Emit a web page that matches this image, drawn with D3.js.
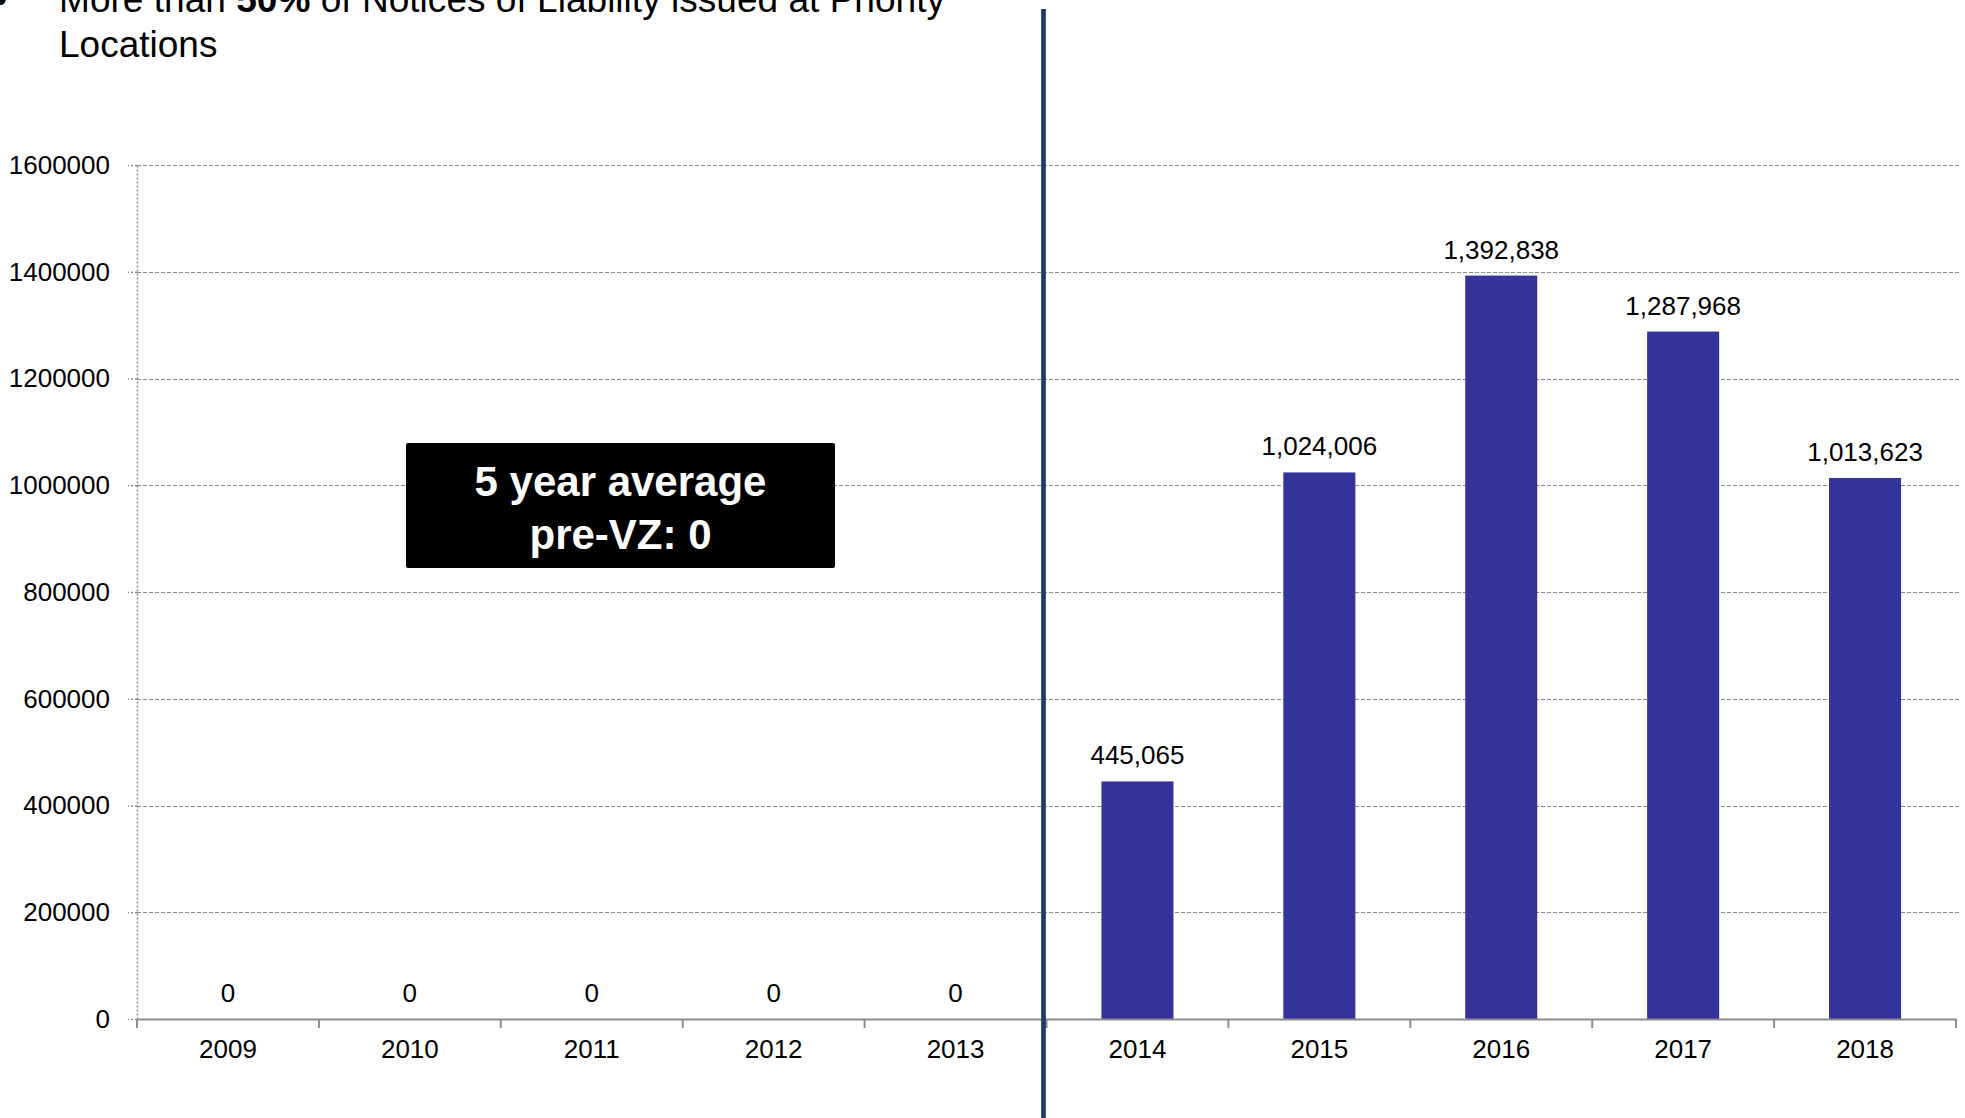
<!DOCTYPE html>
<html>
<head>
<meta charset="utf-8">
<script src="https://cdn.jsdelivr.net/npm/d3@7"></script>
<style>
  html, body { margin: 0; padding: 0; background: #fff; overflow: hidden; }
  svg { display: block; font-family: "Liberation Sans", Arial, sans-serif; }
</style>
</head>
<body>
<svg id="chart" width="1965" height="1118"></svg>
<script>
// Notices of Liability issued per year
const years = ["2009", "2010", "2011", "2012", "2013", "2014", "2015", "2016", "2017", "2018"];
const notices = [0, 0, 0, 0, 0, 445065, 1024006, 1392838, 1287968, 1013623];
const yTicks = [0, 200000, 400000, 600000, 800000, 1000000, 1200000, 1400000, 1600000];
const headlineParts = [
  { text: "More than ", bold: false },
  { text: "50%", bold: true },
  { text: " of Notices of Liability issued at Priority", bold: false }
];
const headlineLine2 = "Locations";
const calloutLines = ["5 year average", "pre-VZ: 0"];
const dividerYear = "2014";

const svg = d3.select("#chart");

const plot = { left: 137, right: 1956, top: 165, bottom: 1019 };

const x = d3.scaleBand()
  .domain(years)
  .range([plot.left, plot.right])
  .paddingInner(0.604)
  .paddingOuter(0.302);

const y = d3.scaleLinear()
  .domain([0, 1600000])
  .range([plot.bottom, plot.top]);

// Headline bullet text at the top
const head = svg.append("g").attr("fill", "#000").style("font-size", "37px");
head.append("text").attr("x", -6).attr("y", 12).text("•");
const line1 = head.append("text").attr("x", 59).attr("y", 12)
  .attr("textLength", 886).attr("lengthAdjust", "spacingAndGlyphs");
headlineParts.forEach(p => {
  line1.append("tspan").attr("font-weight", p.bold ? "bold" : "normal").text(p.text);
});
head.append("text").attr("x", 59).attr("y", 57).text(headlineLine2);

// Horizontal gridlines
svg.append("g")
  .selectAll("line")
  .data(yTicks.filter(d => d > 0))
  .join("line")
  .attr("x1", plot.left)
  .attr("x2", plot.right + 4)
  .attr("y1", d => Math.round(y(d)) + 0.5)
  .attr("y2", d => Math.round(y(d)) + 0.5)
  .attr("stroke", "#8c8c8c")
  .attr("stroke-width", 1.2)
  .attr("stroke-dasharray", "4,2");

// Y axis (dotted)
const yAxis = svg.append("g")
  .attr("transform", `translate(${plot.left},0)`)
  .call(d3.axisLeft(y).tickValues(yTicks).tickFormat(d3.format("d")).tickSize(9).tickPadding(18).tickSizeOuter(0));
yAxis.select(".domain").attr("stroke", "#8c8c8c").attr("stroke-width", 1.5).attr("stroke-dasharray", "2,2");
yAxis.selectAll(".tick line").attr("stroke", "#8c8c8c").attr("stroke-width", 1.5).attr("stroke-dasharray", "2,2");
yAxis.selectAll(".tick text")
  .attr("fill", "#000")
  .style("font-size", "26px")
  .style("font-family", "'Liberation Sans', Arial, sans-serif");

// Bars
svg.append("g")
  .selectAll("rect")
  .data(years.map((yr, i) => ({ yr, v: notices[i] })))
  .join("rect")
  .attr("x", d => x(d.yr))
  .attr("width", x.bandwidth())
  .attr("y", d => y(d.v))
  .attr("height", d => y(0) - y(d.v))
  .attr("fill", "#333399");

// Value labels
svg.append("g")
  .selectAll("text")
  .data(years.map((yr, i) => ({ yr, v: notices[i] })))
  .join("text")
  .attr("x", d => x(d.yr) + x.bandwidth() / 2)
  .attr("y", d => y(d.v) - 17)
  .attr("text-anchor", "middle")
  .attr("fill", "#000")
  .style("font-size", "26px")
  .text(d => d3.format(",")(d.v));

// X axis
const xAxis = svg.append("g")
  .attr("transform", `translate(0,${plot.bottom})`)
  .call(d3.axisBottom(x).tickSize(0).tickPadding(21).tickSizeOuter(0));
xAxis.select(".domain").attr("stroke", "#8c8c8c").attr("stroke-width", 2.2);
xAxis.selectAll(".tick text")
  .attr("fill", "#000")
  .style("font-size", "26px")
  .style("font-family", "'Liberation Sans', Arial, sans-serif");

// Category boundary ticks
const step = x.step();
const boundaries = d3.range(years.length + 1).map(i => plot.left + i * step);
svg.append("g")
  .selectAll("line")
  .data(boundaries)
  .join("line")
  .attr("x1", d => d)
  .attr("x2", d => d)
  .attr("y1", plot.bottom)
  .attr("y2", plot.bottom + 9)
  .attr("stroke", "#8c8c8c")
  .attr("stroke-width", 2);

// Divider between pre- and post- periods
const divX = x(dividerYear) - x.step() * x.paddingOuter() - 3;
svg.append("line")
  .attr("x1", divX).attr("x2", divX)
  .attr("y1", 9).attr("y2", 1118)
  .attr("stroke", "#1f3864")
  .attr("stroke-width", 4.7);

// Callout box
const box = svg.append("g");
box.append("rect")
  .attr("x", 406).attr("y", 443)
  .attr("width", 429).attr("height", 125)
  .attr("rx", 2)
  .attr("fill", "#000");
box.selectAll("text")
  .data(calloutLines)
  .join("text")
  .attr("x", 620.5)
  .attr("y", (d, i) => 496 + i * 53)
  .attr("text-anchor", "middle")
  .attr("fill", "#fff")
  .attr("font-weight", "bold")
  .style("font-size", "42px")
  .text(d => d);
</script>
</body>
</html>
